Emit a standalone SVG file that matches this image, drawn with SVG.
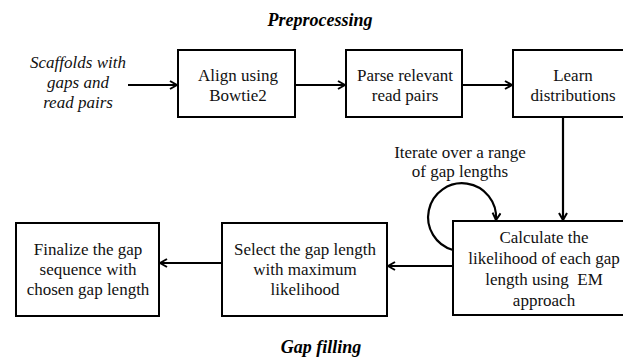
<svg xmlns="http://www.w3.org/2000/svg" width="623" height="358" viewBox="0 0 623 358">
<style>
.box{fill:#fff;stroke:#000;stroke-width:2}
.t{font-family:'Liberation Serif','DejaVu Serif',serif;font-size:17px;fill:#111;text-anchor:middle}
.it{font-style:italic}
.h{font-family:'Liberation Serif','DejaVu Serif',serif;font-size:18px;font-weight:bold;font-style:italic;fill:#000;text-anchor:middle}
.c{fill:none;stroke:#000;stroke-width:2.2}
</style>
<defs>
<marker id="ah" viewBox="0 0 10 10" refX="9" refY="5" markerWidth="10" markerHeight="10" markerUnits="userSpaceOnUse" orient="auto">
<path d="M2,1 L9,5 L2,9" fill="none" stroke="#000" stroke-width="2"/>
</marker>
</defs>
<rect width="623" height="358" fill="#fff"/>
<text class="h" x="320" y="26">Preprocessing</text>
<text class="h" x="321" y="353">Gap filling</text>
<g id="input">
<text class="t it" x="78" y="68">Scaffolds with</text>
<text class="t it" x="78" y="88">gaps and</text>
<text class="t it" x="78" y="108">read pairs</text>
</g>
<g id="align">
<rect class="box" x="178" y="50" width="117" height="67"/>
<text class="t" x="238" y="81">Align using</text>
<text class="t" x="238" y="101">Bowtie2</text>
</g>
<g id="parse">
<rect class="box" x="346" y="50" width="116" height="67"/>
<text class="t" x="405" y="81">Parse relevant</text>
<text class="t" x="405" y="101">read pairs</text>
</g>
<g id="learn">
<rect class="box" x="513" y="50" width="122" height="67"/>
<text class="t" x="573" y="81">Learn</text>
<text class="t" x="573" y="101">distributions</text>
</g>
<g id="calc">
<rect class="box" x="453" y="221" width="182" height="94"/>
<text class="t" x="544" y="243">Calculate the</text>
<text class="t" x="544" y="264">likelihood of each gap</text>
<text class="t" x="544" y="285">length using&#160; EM</text>
<text class="t" x="544" y="306">approach</text>
</g>
<g id="select">
<rect class="box" x="222" y="223" width="165" height="93"/>
<text class="t" x="305" y="255">Select the gap length</text>
<text class="t" x="305" y="275">with maximum</text>
<text class="t" x="305" y="295">likelihood</text>
</g>
<g id="final">
<rect class="box" x="16" y="223" width="143" height="93"/>
<text class="t" x="88" y="255">Finalize the gap</text>
<text class="t" x="88" y="275">sequence with</text>
<text class="t" x="88" y="295">chosen gap length</text>
</g>
<g id="iterate-label">
<text class="t" x="460" y="158">Iterate over a range</text>
<text class="t" x="460" y="177">of gap lengths</text>
</g>
<g id="connectors">
<line class="c" x1="128" y1="85" x2="177" y2="85" marker-end="url(#ah)"/>
<line class="c" x1="295" y1="85" x2="345" y2="85" marker-end="url(#ah)"/>
<line class="c" x1="462" y1="85" x2="512" y2="85" marker-end="url(#ah)"/>
<line class="c" x1="563" y1="117" x2="563" y2="220" marker-end="url(#ah)"/>
<line class="c" x1="453" y1="266" x2="388" y2="266" marker-end="url(#ah)"/>
<line class="c" x1="222" y1="263" x2="160" y2="263" marker-end="url(#ah)"/>
<path class="c" d="M453,250 A34,34 0 1 1 496,220" marker-end="url(#ah)"/>
</g>
</svg>
